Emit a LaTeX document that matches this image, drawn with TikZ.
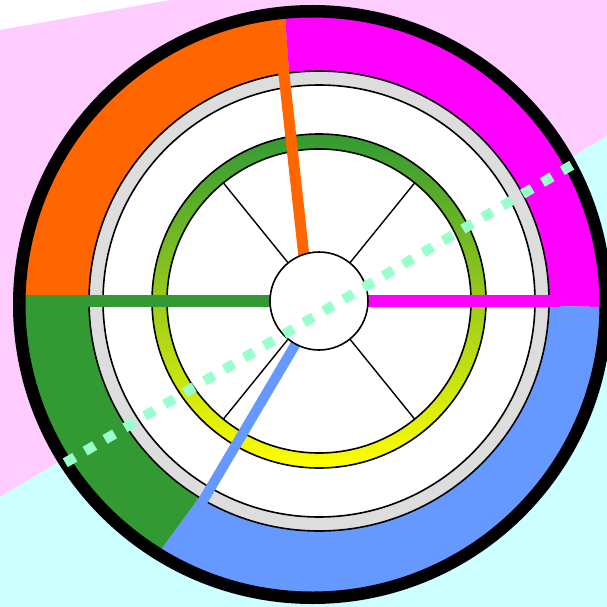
\documentclass[tikz,border=0pt]{standalone}
\usetikzlibrary{calc}
\definecolor{bgpink}{HTML}{FFCCFF}
\definecolor{bgcyan}{HTML}{CCFFFF}
\definecolor{secorange}{HTML}{FF6600}
\definecolor{secmagenta}{HTML}{FF00FF}
\definecolor{secgreen}{HTML}{339933}
\definecolor{secblue}{HTML}{6699FF}
\definecolor{rimgray}{HTML}{DDDDDD}
\definecolor{mint}{HTML}{99FFCC}
\definecolor{ringmid}{HTML}{B8D42C}
\begin{document}
\begin{tikzpicture}[x=1pt,y=-1pt,
  outline/.style={draw=black,line width=1.6pt},
  thinspoke/.style={draw=black,line width=1.4pt},
  thickspoke/.style={line width=#1, line cap=butt},
  hubstyle/.style={circle,draw=black,fill=white,line width=1.6pt,minimum size=98pt,inner sep=0pt}
]
\useasboundingbox (0,0) rectangle (607,607);
\fill[white] (0,0) rectangle (607,607);
% background
\fill[bgpink] (0,30) -- (170,0) -- (607,0) -- (607,136) -- (0,497) -- cycle;
\fill[bgcyan] (0,497) -- (607,136) -- (607,607) -- (0,607) -- cycle;
\coordinate (O) at (312.5,304.5);
\coordinate (C) at (319,301);
% coloured sectors
\begin{scope}
  \clip (O) circle (292);
  \fill[secorange] (280.3,-50) -- (-50,-50) -- (-50,293.4) -- (305.4,300.8) -- cycle;
  \fill[secmagenta] (280.3,-50) -- (700,-50) -- (700,309.05) -- (305.4,300.8) -- cycle;
  \fill[secgreen] (-50,293.4) -- (342.3,301.6) -- (87.9,650) -- (-50,650) -- cycle;
  \fill[secblue] (342.3,301.6) -- (700,309.05) -- (700,650) -- (87.9,650) -- cycle;
\end{scope}
% grey rim
\fill[rimgray] (C) circle (230);
\draw[outline] (C) circle (230);
\fill[white] (C) circle (216);
\draw[outline] (C) circle (216);
% gradient ring
\shade[top color=secgreen, middle color=ringmid, bottom color=yellow, even odd rule]
  (C) circle (167) (C) circle (152);
\draw[outline] (C) circle (167);
\draw[outline] (C) circle (152);
% thin spokes
\foreach \a in {51,129,231,309}
  \draw[thinspoke] ($(C)+(-\a:49)$) -- ($(C)+(-\a:152)$);
% thick coloured spokes
\coordinate (gS) at (20,301);
\coordinate (gE) at (300,301);
\coordinate (mS) at (340,301);
\coordinate (mE) at (560,301);
\coordinate (oS) at (280.2,40);
\coordinate (oE) at (307.1,285);
\coordinate (bS) at (309.8,320);
\coordinate (bE) at (176.8,545);
\draw[secgreen, thickspoke=11.5pt] (gS) -- (gE);
\draw[secmagenta, thickspoke=11.5pt] (mS) -- (mE);
\draw[secorange, thickspoke=11pt] (oS) -- (oE);
\draw[secblue, thickspoke=10pt] (bS) -- (bE);
% hub
\node[hubstyle] (hub) at (C) {};
% black outer rim
\draw[black, line width=12.5pt] (O) circle (293.25);
% dotted line
\coordinate (dS) at (65.3,462.8);
\coordinate (dE) at (571.7,165.2);
\draw[mint, line width=10pt, dash pattern=on 11pt off 12.06pt] (dS) -- (dE);
\end{tikzpicture}
\end{document}
